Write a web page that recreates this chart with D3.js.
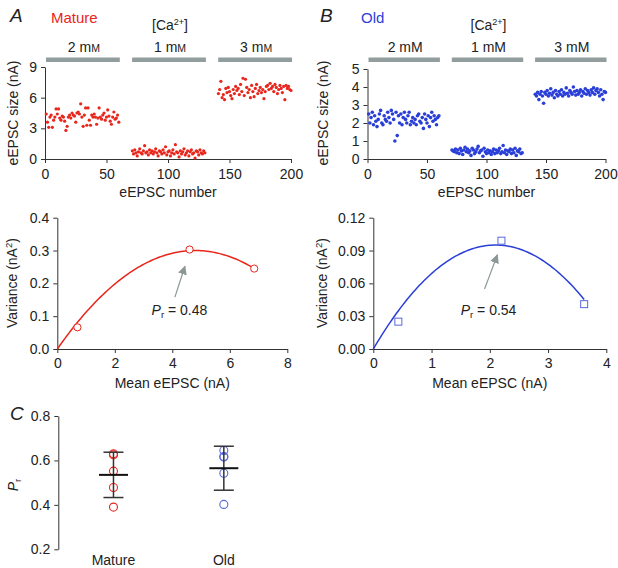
<!DOCTYPE html>
<html><head><meta charset="utf-8">
<script src="https://cdn.jsdelivr.net/npm/d3@7"></script>
<style>
body{margin:0;background:#fff}
svg{font-family:"Liberation Sans",Arial,sans-serif}
.axis path,.axis line{stroke:#333;stroke-width:1}
.axis text{font-size:14px;fill:#222}
</style></head><body>
<svg id="c" width="618" height="568"></svg>
<script>
// ---------- DATA ----------
const concLabels = ["2", "1", "3"];
const segStarts = [1, 71, 141];
const matureSeg1 = [4.4,3.6,3.1,4.1,4.3,3.1,3.8,4.1,4.9,4.4,4.9,4.0,3.8,4.2,4.1,3.7,2.8,3.2,4.1,4.3,4.0,4.5,4.3,4.2,3.6,4.5,4.6,4.4,5.4,4.1,3.2,4.3,5.0,3.3,5.0,3.8,3.3,4.3,4.1,4.4,4.1,3.4,4.0,5.0,4.1,3.9,4.3,4.5,3.8,4.1,4.8,4.2,3.7,3.4,4.1,4.6,3.9,4.0,4.3,3.6];
const matureSeg2 = [0.8,0.5,0.9,0.6,0.3,0.7,1.0,0.6,0.5,0.8,1.3,0.6,0.7,0.4,0.9,0.6,0.8,0.5,0.7,1.0,0.6,0.3,0.8,0.7,0.5,0.9,0.6,1.2,0.4,0.7,0.8,0.3,0.6,0.9,0.5,1.4,0.7,0.6,0.2,0.8,0.5,0.7,1.0,0.4,0.6,0.8,0.3,0.7,0.9,0.5,0.6,0.1,0.8,0.7,0.4,0.9,0.6,0.5,0.8,0.6];
const matureSeg3 = [6.4,6.8,7.6,6.0,6.3,5.8,6.9,6.5,7.0,6.6,6.2,5.9,6.8,6.4,7.1,6.7,6.9,6.3,7.3,6.6,7.9,6.2,7.8,7.0,6.5,6.8,6.0,7.2,6.6,6.1,6.9,7.3,6.4,6.7,7.0,6.5,6.8,5.9,6.6,7.1,7.2,6.8,7.4,6.9,7.1,6.6,7.3,7.0,6.4,6.8,7.2,6.9,6.5,7.1,5.8,7.2,6.9,7.1,6.8,6.7];
const oldSeg1 = [2.5,2.0,2.3,2.6,1.9,2.4,2.1,1.8,2.2,2.5,2.7,2.0,1.9,2.4,2.2,2.1,2.6,2.3,2.0,2.7,2.5,2.2,1.0,2.6,1.3,2.4,2.0,2.5,1.9,2.3,2.6,2.2,2.0,2.4,2.6,1.9,2.1,2.3,2.0,2.2,1.9,2.4,2.5,2.1,2.0,2.3,1.7,2.5,2.2,2.0,2.4,1.8,2.3,2.6,2.1,2.4,2.2,1.9,2.3,2.4];
const oldSeg2 = [0.5,0.45,0.4,0.55,0.35,0.5,0.3,0.6,0.45,0.25,0.5,0.65,0.4,0.55,0.35,0.45,0.2,0.6,0.5,0.3,0.4,0.55,0.7,0.35,0.45,0.5,0.15,0.6,0.4,0.3,0.5,0.35,0.45,0.25,0.4,0.55,0.3,0.5,0.35,0.45,0.6,0.3,0.4,0.75,0.35,0.5,0.25,0.45,0.4,0.55,0.3,0.5,0.35,0.6,0.2,0.45,0.4,0.55,0.3,0.35];
const oldSeg3 = [3.6,3.5,3.7,3.3,3.6,3.75,3.5,3.1,3.7,3.6,3.8,3.5,3.65,3.9,3.55,3.7,3.4,3.8,3.6,3.5,3.75,3.6,3.85,3.5,3.7,3.6,3.95,3.65,3.5,3.8,3.7,3.6,4.0,3.75,3.55,3.8,3.6,3.7,3.85,3.5,3.75,3.65,3.9,3.6,3.8,3.7,3.55,3.85,3.7,3.95,3.6,3.8,3.9,3.7,3.5,3.85,3.6,3.3,3.75,3.7];

const matureMean = [0.7, 4.6, 6.85];
const matureVar = [0.066, 0.303, 0.245];
const oldMean = [0.43, 2.2, 3.62];
const oldVar = [0.025, 0.099, 0.041];
const matureFit = {i: 0.125, N: 76.8};
const oldFit = {i: 0.0905, N: 46.4};
const matureLabel = "0.48", oldLabel = "0.54";

const groups = ["Mature", "Old"];
const prMature = [0.63, 0.625, 0.552, 0.478, 0.39];
const prOld = [0.645, 0.618, 0.615, 0.542, 0.402];
const prMeans = [0.535, 0.565];
const prSD = [0.102, 0.099];

const topXTicks = [0, 50, 100, 150, 200];
const topYTicksA = [0, 3, 6, 9];
const topYTicksB = [0, 1, 2, 3, 4, 5];
const midXTicksA = [0, 2, 4, 6, 8];
const midYTicksA = [0, 0.1, 0.2, 0.3, 0.4];
const midXTicksB = [0, 1, 2, 3, 4];
const midYTicksB = [0, 0.03, 0.06, 0.09, 0.12];
const prTicks = [0.2, 0.4, 0.6, 0.8];

// ---------- STYLE ----------
const RED = "#e8261c", BLUE = "#2a3fd8", BLUE2 = "#5868dc", GRAYBAR = "#929d9d", ARROW = "#8c9797";
const FS = 14;
const svg = d3.select("#c");

function segPoints(segs){
  const pts = [];
  segs.forEach((s, k) => s.forEach((v, j) => pts.push({x: segStarts[k] + j, y: v})));
  return pts;
}

function axes(g, x, y, xt, yt, yFmt, xFmt, xPad){
  g.append("g").attr("class","axis").attr("transform",`translate(0,${y.range()[0]})`)
    .call(d3.axisBottom(x).tickValues(xt).tickSize(4).tickSizeOuter(0).tickPadding(xPad).tickFormat(xFmt||d3.format("d")));
  g.append("g").attr("class","axis").attr("transform",`translate(${x.range()[0]},0)`)
    .call(d3.axisLeft(y).tickValues(yt).tickSize(4).tickSizeOuter(0).tickPadding(4).tickFormat(yFmt));
}

function topPanel(ox, letter, title, color, segs, xr, yDomain, yTicks, smallCaps, r){
  const g = svg.append("g");
  const x = d3.scaleLinear().domain([0,200]).range(xr);
  const y = d3.scaleLinear().domain(yDomain).range([159, yDomain[1]===9?67:69]);
  g.append("text").attr("x", ox+10).attr("y", 22).attr("font-size",19).attr("font-style","italic").attr("fill","#222").text(letter);
  g.append("text").attr("x", ox+51).attr("y", 23).attr("font-size",15).attr("fill",color).text(title);
  const ca = g.append("text").attr("x", x(100)+2).attr("y", 30).attr("font-size",FS).attr("text-anchor","middle").attr("fill","#222");
  ca.append("tspan").text("[Ca");
  ca.append("tspan").attr("font-size",9).attr("dy",-5).text("2+");
  ca.append("tspan").attr("dy",5).text("]");
  segs.forEach((s,k) => {
    const x0 = x(segStarts[k]-1), x1 = x(segStarts[k]+s.length-1);
    g.append("rect").attr("x",x0+1).attr("y",57.5).attr("width",x1-x0).attr("height",4.5).attr("fill",GRAYBAR);
    const t = g.append("text").attr("x",(x0+x1)/2+2).attr("y",52).attr("font-size",FS).attr("text-anchor","middle").attr("fill","#222");
    if (smallCaps){ t.append("tspan").text(concLabels[k]+" m"); t.append("tspan").attr("font-size",10.5).text("M"); }
    else t.text(concLabels[k]+" mM");
  });
  axes(g, x, y, topXTicks, yTicks, d3.format("d"), d3.format("d"), 6);
  g.append("text").attr("x", x(100)).attr("y", 197).attr("font-size",FS).attr("text-anchor","middle").attr("fill","#222").text("eEPSC number");
  g.append("text").attr("transform",`translate(${ox+18},${113}) rotate(-90)`).attr("font-size",FS).attr("text-anchor","middle").attr("fill","#222").text("eEPSC size (nA)");
  g.selectAll("circle.d").data(segPoints(segs)).join("circle").attr("class","d")
    .attr("cx", d=>x(d.x)).attr("cy", d=>y(d.y)).attr("r", r).attr("fill", color);
}

topPanel(0, "A", "Mature", RED, [matureSeg1, matureSeg2, matureSeg3], [45, 291], [0,9], topYTicksA, true, 1.6);
topPanel(310, "B", "Old", BLUE, [oldSeg1, oldSeg2, oldSeg3], [367.5, 605.5], [0,5], topYTicksB, false, 1.8);

svg.append("defs").append("marker").attr("id","ah").attr("viewBox","0 0 10 10").attr("refX",9).attr("refY",5)
  .attr("markerWidth",9).attr("markerHeight",9).attr("markerUnits","userSpaceOnUse").attr("orient","auto")
  .append("path").attr("d","M0,0 L10,5 L0,10 Z").attr("fill",ARROW);

function midPanel(ox, xr, xDomain, yDomain, xt, yt, yFmt, means, vars, fit, color, pointColor, shape, arrow, label){
  const g = svg.append("g");
  const x = d3.scaleLinear().domain(xDomain).range(xr);
  const y = d3.scaleLinear().domain(yDomain).range([349, 217.7]);
  axes(g, x, y, xt, yt, yFmt, d3.format("d"), 5);
  g.append("text").attr("x", (xr[0]+xr[1])/2).attr("y", 388).attr("font-size",FS).attr("text-anchor","middle").attr("fill","#222").text("Mean eEPSC (nA)");
  const yl = g.append("text").attr("transform",`translate(${ox+17},${283}) rotate(-90)`).attr("font-size",FS).attr("text-anchor","middle").attr("fill","#222");
  yl.append("tspan").text("Variance (nA");
  yl.append("tspan").attr("font-size",9.5).attr("dy",-5).text("2");
  yl.append("tspan").attr("dy",5).text(")");
  const mMax = d3.max(means);
  const curve = d3.range(0, 101).map(k => { const m = mMax*k/100; return [m, fit.i*m - m*m/fit.N]; });
  g.append("path").datum(curve).attr("fill","none").attr("stroke",color).attr("stroke-width",1.5)
    .attr("d", d3.line().x(d=>x(d[0])).y(d=>y(d[1])));
  const pts = means.map((m,k)=>({m, v: vars[k]}));
  if (shape === "circle"){
    g.selectAll("circle.p").data(pts).join("circle").attr("class","p").attr("cx",d=>x(d.m)).attr("cy",d=>y(d.v)).attr("r",3.6)
      .attr("fill","#fff").attr("stroke",pointColor).attr("stroke-width",1);
  } else {
    g.selectAll("rect.p").data(pts).join("rect").attr("class","p").attr("x",d=>x(d.m)-3.5).attr("y",d=>y(d.v)-3.5).attr("width",7).attr("height",7)
      .attr("fill","#fff").attr("stroke",pointColor).attr("stroke-width",1);
  }
  g.append("line").attr("x1",x(arrow[0])).attr("y1",y(arrow[1])).attr("x2",x(arrow[2])).attr("y2",y(arrow[3]))
    .attr("stroke",ARROW).attr("stroke-width",1.2).attr("marker-end","url(#ah)");
  const t = g.append("text").attr("x",x(arrow[4])).attr("y",y(arrow[5])).attr("font-size",FS).attr("fill","#222");
  t.append("tspan").attr("font-style","italic").text("P");
  t.append("tspan").attr("font-size",9.5).attr("dy",3).text("r");
  t.append("tspan").attr("dy",-3).text(" = " + label);
}

midPanel(0, [57.3, 287.3], [0,8], [0,0.4], midXTicksA, midYTicksA, d3.format(".1f"), matureMean, matureVar, matureFit, RED, RED, "circle",
  [4.09, 0.158, 4.44, 0.252, 3.28, 0.104], matureLabel);
midPanel(310, [373.3, 606.3], [0,4], [0,0.12], midXTicksB, midYTicksB, d3.format(".2f"), oldMean, oldVar, oldFit, BLUE, BLUE2, "square",
  [1.91, 0.0548, 2.13, 0.086, 1.50, 0.031], oldLabel);

// ---------- Panel C ----------
(function(){
  const g = svg.append("g");
  const x = d3.scalePoint().domain(groups).range([58.3, 279]).padding(0.5);
  const y = d3.scaleLinear().domain([0.2,0.8]).range([549.3, 416]);
  g.append("text").attr("x",10).attr("y",420).attr("font-size",19).attr("font-style","italic").attr("fill","#222").text("C");
  g.append("g").attr("class","axis").attr("transform",`translate(58.3,0)`)
    .call(d3.axisLeft(y).tickValues(prTicks).tickSize(4).tickSizeOuter(0).tickPadding(4).tickFormat(d3.format(".1f")));
  groups.forEach((gr,k) => g.append("text").attr("x",x(gr)).attr("y",565).attr("font-size",FS).attr("text-anchor","middle").attr("fill","#222").text(gr));
  const yl = g.append("text").attr("transform",`translate(18,485) rotate(-90)`).attr("font-size",FS).attr("text-anchor","middle").attr("fill","#222");
  yl.append("tspan").attr("font-style","italic").text("P");
  yl.append("tspan").attr("font-size",9.5).attr("dy",3).text("r");
  const sets = [prMature, prOld], cols = [RED, BLUE2];
  groups.forEach((gr,k) => {
    const cx = x(gr);
    g.selectAll(null).data(sets[k]).join("circle").attr("cx",cx).attr("cy",d=>y(d)).attr("r",4)
      .attr("fill","none").attr("stroke",cols[k]).attr("stroke-width",1.1);
    const lo = prMeans[k]-prSD[k], hi = prMeans[k]+prSD[k];
    g.append("line").attr("x1",cx).attr("x2",cx).attr("y1",y(lo)).attr("y2",y(hi)).attr("stroke","#333").attr("stroke-width",1.5);
    [lo,hi].forEach(v => g.append("line").attr("x1",cx-10).attr("x2",cx+10).attr("y1",y(v)).attr("y2",y(v)).attr("stroke","#333").attr("stroke-width",1.5));
    g.append("line").attr("x1",cx-14.5).attr("x2",cx+14.5).attr("y1",y(prMeans[k])).attr("y2",y(prMeans[k])).attr("stroke","#111").attr("stroke-width",2);
  });
})();
</script></body></html>
